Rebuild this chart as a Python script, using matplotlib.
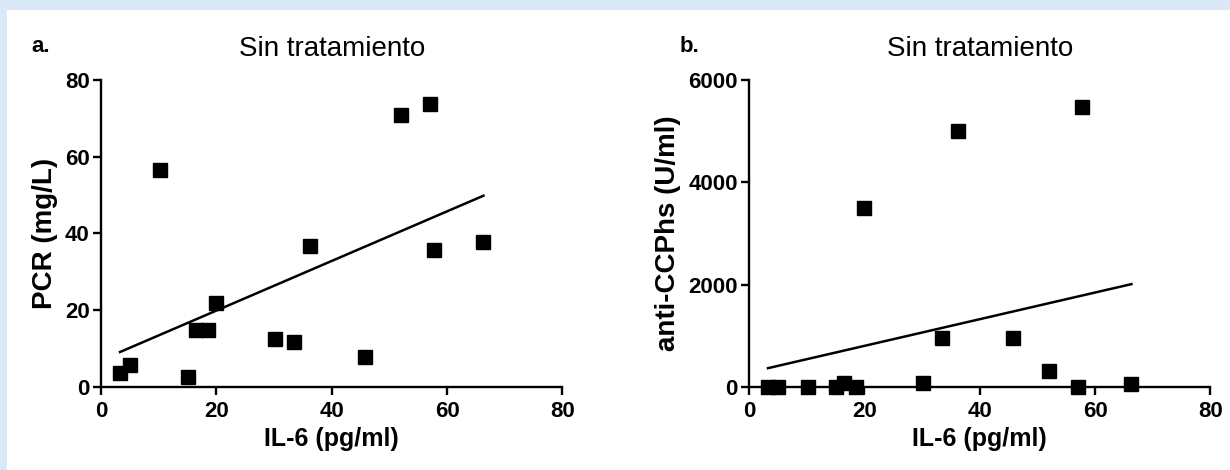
import matplotlib.pyplot as plt
import numpy as np
from matplotlib.patches import Rectangle

# IL-6 values for the untreated group (same patients in both panels)
il6 = [3.3, 5.0, 10.2, 15.1, 16.5, 18.5, 19.9, 30.2, 33.4, 36.2, 45.8, 52.0, 57.0, 57.8, 66.3]
pcr = [3.7, 5.8, 56.5, 2.6, 14.8, 14.8, 21.9, 12.5, 11.7, 36.7, 7.7, 70.8, 73.7, 35.7, 37.9]
anti_ccp = [0, 0, 0, 0, 80, 0, 3500, 70, 960, 5000, 960, 310, 0, 5480, 50]

x_ticks = [0, 20, 40, 60, 80]
pcr_ticks = [0, 20, 40, 60, 80]
ccp_ticks = [0, 2000, 4000, 6000]

plt.rcParams["font.family"] = ["Liberation Sans", "DejaVu Sans"]

fig = plt.figure(figsize=(12.3, 4.7), dpi=100, facecolor="#dae8f7")
# white sheet behind the two plots
fig.patches.append(Rectangle((7 / 1230, 0), 1, 1 - 10 / 470, transform=fig.transFigure,
                             facecolor="white", edgecolor="none", zorder=-10))

panels = [
    (0.0821, pcr, pcr_ticks, "PCR (mg/L)", "a."),
    (0.6089, anti_ccp, ccp_ticks, "anti-CCPhs (U/ml)", "b."),
]

for left, yvals, yticks, ylabel, letter in panels:
    ax = fig.add_axes([left, 0.1766, 0.3752, 0.6532])
    ax.set_facecolor("none")

    ax.plot(il6, yvals, "s", color="black", markersize=10.5, clip_on=False, zorder=3)

    # least squares line over the range of the data
    p = np.polyfit(il6, yvals, 1)
    xs = np.array([min(il6), max(il6)])
    ax.plot(xs, p[0] * xs + p[1], color="black", linewidth=1.8, zorder=2)

    ax.set_xlim(0, 80)
    ax.set_ylim(0, yticks[-1])
    ax.set_xticks(x_ticks)
    ax.set_yticks(yticks)

    for side in ["top", "right"]:
        ax.spines[side].set_visible(False)
    for side in ["left", "bottom"]:
        ax.spines[side].set_linewidth(1.7)
    ax.tick_params(width=1.7, length=6, labelsize=16)
    ax.tick_params(axis="x", pad=4)
    ax.tick_params(axis="y", pad=2)
    for lbl in ax.get_xticklabels() + ax.get_yticklabels():
        lbl.set_fontweight("bold")

    ax.set_xlabel("IL-6 (pg/ml)", fontsize=18, fontweight="bold", labelpad=4)
    ax.set_ylabel(ylabel, fontsize=20, fontweight="bold", labelpad=5)
    ax.set_title("Sin tratamiento", fontsize=20, pad=17)
    ax.text(-0.15, 1.11, letter, transform=ax.transAxes, fontsize=16, fontweight="bold",
            ha="left", va="center")

plt.savefig("out.png", dpi=100, facecolor=fig.get_facecolor())
